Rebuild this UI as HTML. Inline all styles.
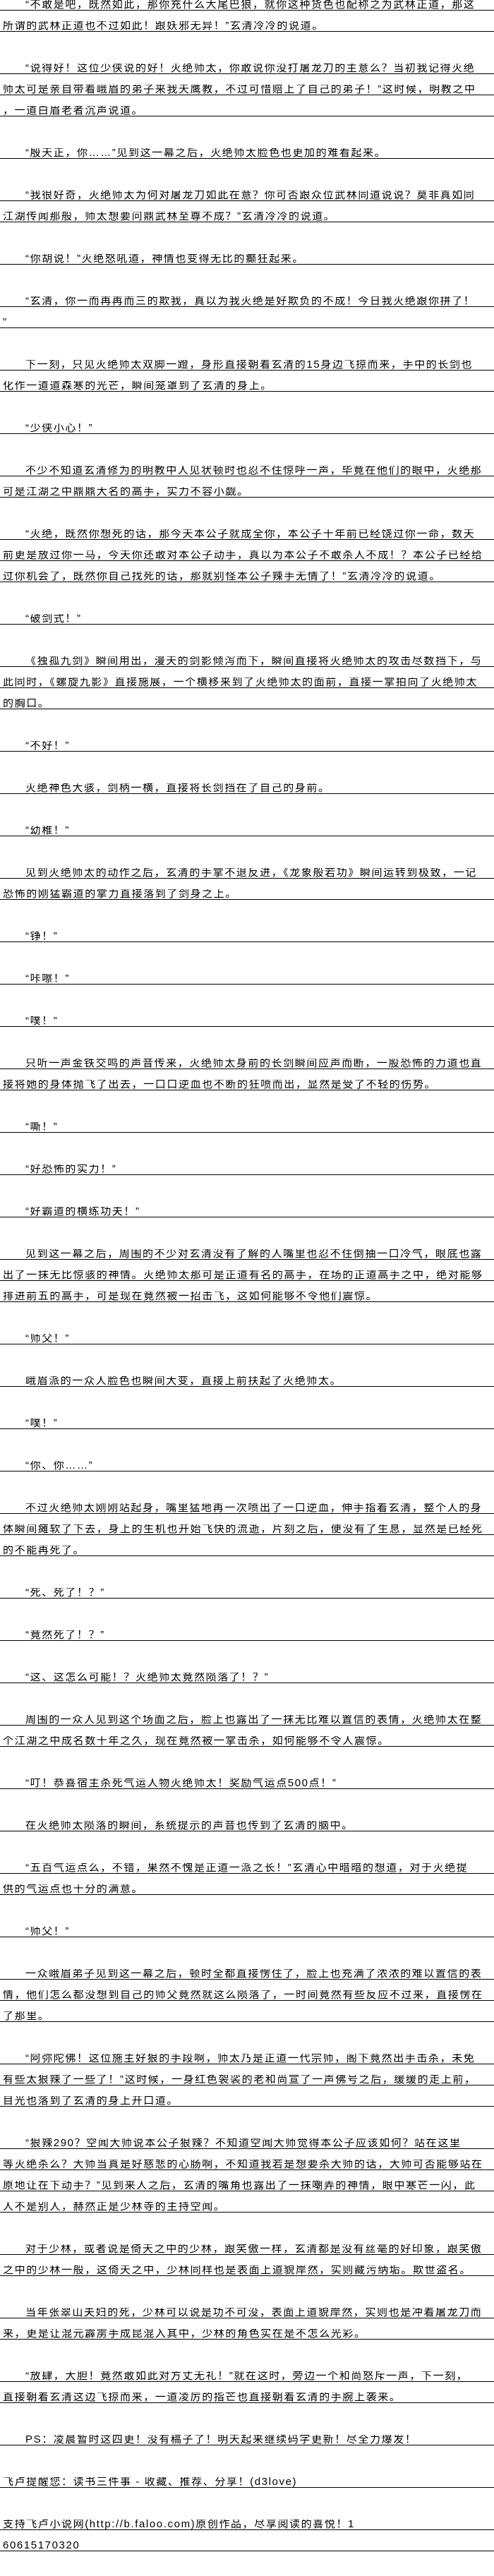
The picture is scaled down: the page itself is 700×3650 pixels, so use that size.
<!DOCTYPE html>
<html><head><meta charset="utf-8"><style>
html,body{margin:0;padding:0;background:#fff;width:700px;height:3650px;overflow:hidden}
body{font-family:"Liberation Sans","WenQuanYi Zen Hei","Noto Sans CJK SC",sans-serif;font-size:15px;color:#000}
.l{height:14px;line-height:14px;border-bottom:1px solid #000;margin-bottom:15px;padding-left:4px;white-space:nowrap;overflow:hidden;letter-spacing:1.6px}
.i{padding-left:36px}
.b{height:30px}
</style></head><body>
<div class="l i">“不敢是吧，既然如此，那你充什么大尾巴狼，就你这种货色也配称之为武林正道，那这</div>
<div class="l">所谓的武林正道也不过如此！跟妖邪无异！”玄清冷冷的说道。</div>
<div class="b"></div>
<div class="l i">“说得好！这位少侠说的好！灭绝师太，你敢说你没打屠龙刀的主意么？当初我记得灭绝</div>
<div class="l">师太可是亲自带着峨眉的弟子来我天鹰教，不过可惜赔上了自己的弟子！”这时候，明教之中</div>
<div class="l">，一道白眉老者沉声说道。</div>
<div class="b"></div>
<div class="l i">“殷天正，你……”见到这一幕之后，灭绝师太脸色也更加的难看起来。</div>
<div class="b"></div>
<div class="l i">“我很好奇，灭绝师太为何对屠龙刀如此在意？你可否跟众位武林同道说说？莫非真如同</div>
<div class="l">江湖传闻那般，师太想要问鼎武林至尊不成？”玄清冷冷的说道。</div>
<div class="b"></div>
<div class="l i">“你胡说！”灭绝怒吼道，神情也变得无比的癫狂起来。</div>
<div class="b"></div>
<div class="l i">“玄清，你一而再再而三的欺我，真以为我灭绝是好欺负的不成！今日我灭绝跟你拼了！</div>
<div class="l">”</div>
<div class="b"></div>
<div class="l i">下一刻，只见灭绝师太双脚一蹬，身形直接朝着玄清的15身边飞掠而来，手中的长剑也</div>
<div class="l">化作一道道森寒的光芒，瞬间笼罩到了玄清的身上。</div>
<div class="b"></div>
<div class="l i">“少侠小心！”</div>
<div class="b"></div>
<div class="l i">不少不知道玄清修为的明教中人见状顿时也忍不住惊呼一声，毕竟在他们的眼中，灭绝那</div>
<div class="l">可是江湖之中鼎鼎大名的高手，实力不容小觑。</div>
<div class="b"></div>
<div class="l i">“灭绝，既然你想死的话，那今天本公子就成全你，本公子十年前已经饶过你一命，数天</div>
<div class="l">前更是放过你一马，今天你还敢对本公子动手，真以为本公子不敢杀人不成！？本公子已经给</div>
<div class="l">过你机会了，既然你自己找死的话，那就别怪本公子辣手无情了！”玄清冷冷的说道。</div>
<div class="b"></div>
<div class="l i">“破剑式！”</div>
<div class="b"></div>
<div class="l i">《独孤九剑》瞬间用出，漫天的剑影倾泻而下，瞬间直接将灭绝师太的攻击尽数挡下，与</div>
<div class="l">此同时，《螺旋九影》直接施展，一个横移来到了灭绝师太的面前，直接一掌拍向了灭绝师太</div>
<div class="l">的胸口。</div>
<div class="b"></div>
<div class="l i">“不好！”</div>
<div class="b"></div>
<div class="l i">灭绝神色大骇，剑柄一横，直接将长剑挡在了自己的身前。</div>
<div class="b"></div>
<div class="l i">“幼稚！”</div>
<div class="b"></div>
<div class="l i">见到灭绝师太的动作之后，玄清的手掌不退反进，《龙象般若功》瞬间运转到极致，一记</div>
<div class="l">恐怖的刚猛霸道的掌力直接落到了剑身之上。</div>
<div class="b"></div>
<div class="l i">“铮！”</div>
<div class="b"></div>
<div class="l i">“咔嚓！”</div>
<div class="b"></div>
<div class="l i">“噗！”</div>
<div class="b"></div>
<div class="l i">只听一声金铁交鸣的声音传来，灭绝师太身前的长剑瞬间应声而断，一股恐怖的力道也直</div>
<div class="l">接将她的身体抛飞了出去，一口口逆血也不断的狂喷而出，显然是受了不轻的伤势。</div>
<div class="b"></div>
<div class="l i">“嘶！”</div>
<div class="b"></div>
<div class="l i">“好恐怖的实力！”</div>
<div class="b"></div>
<div class="l i">“好霸道的横练功夫！”</div>
<div class="b"></div>
<div class="l i">见到这一幕之后，周围的不少对玄清没有了解的人嘴里也忍不住倒抽一口冷气，眼底也露</div>
<div class="l">出了一抹无比惊骇的神情。灭绝师太那可是正道有名的高手，在场的正道高手之中，绝对能够</div>
<div class="l">排进前五的高手，可是现在竟然被一招击飞，这如何能够不令他们震惊。</div>
<div class="b"></div>
<div class="l i">“师父！”</div>
<div class="b"></div>
<div class="l i">峨眉派的一众人脸色也瞬间大变，直接上前扶起了灭绝师太。</div>
<div class="b"></div>
<div class="l i">“噗！”</div>
<div class="b"></div>
<div class="l i">“你、你……”</div>
<div class="b"></div>
<div class="l i">不过灭绝师太刚刚站起身，嘴里猛地再一次喷出了一口逆血，伸手指着玄清，整个人的身</div>
<div class="l">体瞬间瘫软了下去，身上的生机也开始飞快的流逝，片刻之后，便没有了生息，显然是已经死</div>
<div class="l">的不能再死了。</div>
<div class="b"></div>
<div class="l i">“死、死了！？”</div>
<div class="b"></div>
<div class="l i">“竟然死了！？”</div>
<div class="b"></div>
<div class="l i">“这、这怎么可能！？灭绝师太竟然陨落了！？”</div>
<div class="b"></div>
<div class="l i">周围的一众人见到这个场面之后，脸上也露出了一抹无比难以置信的表情，灭绝师太在整</div>
<div class="l">个江湖之中成名数十年之久，现在竟然被一掌击杀，如何能够不令人震惊。</div>
<div class="b"></div>
<div class="l i">“叮！恭喜宿主杀死气运人物灭绝师太！奖励气运点500点！”</div>
<div class="b"></div>
<div class="l i">在灭绝师太陨落的瞬间，系统提示的声音也传到了玄清的脑中。</div>
<div class="b"></div>
<div class="l i">“五百气运点么，不错，果然不愧是正道一派之长！”玄清心中暗暗的想道，对于灭绝提</div>
<div class="l">供的气运点也十分的满意。</div>
<div class="b"></div>
<div class="l i">“师父！”</div>
<div class="b"></div>
<div class="l i">一众峨眉弟子见到这一幕之后，顿时全都直接愣住了，脸上也充满了浓浓的难以置信的表</div>
<div class="l">情，他们怎么都没想到自己的师父竟然就这么陨落了，一时间竟然有些反应不过来，直接愣在</div>
<div class="l">了那里。</div>
<div class="b"></div>
<div class="l i">“阿弥陀佛！这位施主好狠的手段啊，师太乃是正道一代宗师，阁下竟然出手击杀，未免</div>
<div class="l">有些太狠辣了一些了！”这时候，一身红色袈裟的老和尚宣了一声佛号之后，缓缓的走上前，</div>
<div class="l">目光也落到了玄清的身上开口道。</div>
<div class="b"></div>
<div class="l i">“狠辣290？空闻大师说本公子狠辣？不知道空闻大师觉得本公子应该如何？站在这里</div>
<div class="l">等灭绝杀么？大师当真是好慈悲的心肠啊，不知道我若是想要杀大师的话，大师可否能够站在</div>
<div class="l">原地让在下动手？”见到来人之后，玄清的嘴角也露出了一抹嘲弄的神情，眼中寒芒一闪，此</div>
<div class="l">人不是别人，赫然正是少林寺的主持空闻。</div>
<div class="b"></div>
<div class="l i">对于少林，或者说是倚天之中的少林，跟笑傲一样，玄清都是没有丝毫的好印象，跟笑傲</div>
<div class="l">之中的少林一般，这倚天之中，少林同样也是表面上道貌岸然，实则藏污纳垢。欺世盗名。</div>
<div class="b"></div>
<div class="l i">当年张翠山夫妇的死，少林可以说是功不可没，表面上道貌岸然，实则也是冲着屠龙刀而</div>
<div class="l">来，更是让混元霹雳手成昆混入其中，少林的角色实在是不怎么光彩。</div>
<div class="b"></div>
<div class="l i">“放肆，大胆！竟然敢如此对方丈无礼！”就在这时，旁边一个和尚怒斥一声，下一刻，</div>
<div class="l">直接朝着玄清这边飞掠而来，一道凌厉的指芒也直接朝着玄清的手腕上袭来。</div>
<div class="b"></div>
<div class="l i">PS：凌晨暂时这四更！没有稿子了！明天起来继续码字更新！尽全力爆发！</div>
<div class="b"></div>
<div class="l">飞卢提醒您：读书三件事 - 收藏、推荐、分享！(d3love)</div>
<div class="b"></div>
<div class="l">支持飞卢小说网(http://b.faloo.com)原创作品，尽享阅读的喜悦！1</div>
<div class="l">60615170320</div>
</body></html>
